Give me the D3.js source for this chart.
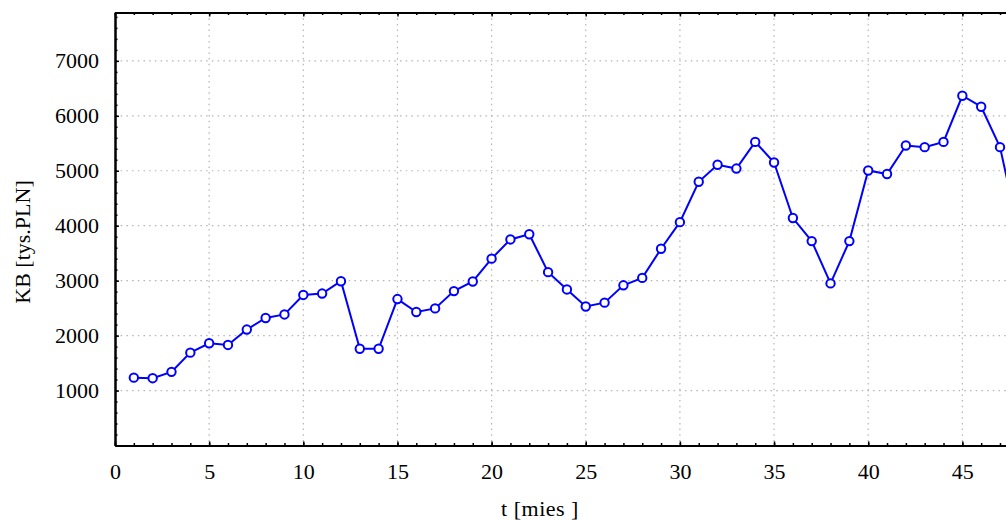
<!DOCTYPE html>
<html>
<head>
<meta charset="utf-8">
<script src="https://cdn.jsdelivr.net/npm/d3@7"></script>
<style>
  body { margin: 0; background: #fff; }
  svg { display: block; }
  .axis text { font-family: "Liberation Serif", "Times New Roman", serif; font-size: 22px; fill: #000; }
  .axis .domain { stroke: #000; stroke-width: 2; }
  .axis line { stroke: #000; stroke-width: 1.5; }
</style>
</head>
<body>
<div class="chart"></div>
<script>
var totalWidth = 1006;
var totalHeight = 520;

// DATA
var months = [1, 2, 3, 4, 5, 6, 7, 8, 9, 10, 11, 12, 13, 14, 15, 16, 17, 18, 19, 20, 21, 22, 23, 24,
  25, 26, 27, 28, 29, 30, 31, 32, 33, 34, 35, 36, 37, 38, 39, 40, 41, 42, 43, 44, 45, 46, 47, 48];
var kb = [1235, 1225, 1340, 1690, 1860, 1830, 2110, 2320, 2385, 2740, 2765, 2990, 1760, 1760, 2665, 2430,
  2495, 2810, 2985, 3400, 3750, 3845, 3155, 2840, 2530, 2600, 2915, 3050, 3580, 4065, 4800, 5110,
  5040, 5525, 5150, 4140, 3720, 2950, 3720, 5005, 4940, 5460, 5430, 5525, 6365, 6165, 5430, 3870];
var xTicks = [0, 5, 10, 15, 20, 25, 30, 35, 40, 45];
var yTicks = [1000, 2000, 3000, 4000, 5000, 6000, 7000];

var margin = { top: 12.5, left: 115, bottom: 74.5, right: 0 };
var height = totalHeight - margin.top - margin.bottom;
var width = 50 * 18.83;

var xScale = d3.scaleLinear().domain([0, 50]).range([0, width]);
var yScale = d3.scaleLinear().domain([0, 7880]).range([height, 0]);

var svg = d3.select(".chart").append("svg")
  .attr("width", totalWidth)
  .attr("height", totalHeight);

var mainGroup = svg.append("g")
  .attr("transform", "translate(" + margin.left + "," + margin.top + ")");

// GRID
var grid = mainGroup.append("g").attr("id", "grid")
  .attr("stroke", "#b4b4b4").attr("stroke-width", 1.2).attr("stroke-dasharray", "1.5,4.2");
grid.selectAll(".gx").data(xTicks.filter(function(d) { return d > 0; }))
  .enter().append("line")
  .attr("x1", function(d) { return xScale(d); })
  .attr("x2", function(d) { return xScale(d); })
  .attr("y1", 0).attr("y2", height);
grid.selectAll(".gy").data(yTicks)
  .enter().append("line")
  .attr("x1", 0).attr("x2", width)
  .attr("y1", function(d) { return yScale(d); })
  .attr("y2", function(d) { return yScale(d); });

// AXES
var minorX = d3.range(0, 51);
var minorY = d3.range(0, 7880, 200);

mainGroup.append("g").attr("class", "axis")
  .attr("transform", "translate(0," + height + ")")
  .call(d3.axisBottom(xScale).tickValues(minorX).tickSizeInner(-2.5).tickSizeOuter(0).tickFormat(""));
mainGroup.append("g").attr("class", "axis")
  .attr("transform", "translate(0," + height + ")")
  .call(d3.axisBottom(xScale).tickValues(xTicks).tickSizeInner(-4).tickSizeOuter(0).tickPadding(18));

mainGroup.append("g").attr("class", "axis")
  .call(d3.axisTop(xScale).tickValues(minorX).tickSizeInner(-2.5).tickSizeOuter(0).tickFormat(""));
mainGroup.append("g").attr("class", "axis")
  .call(d3.axisTop(xScale).tickValues(xTicks).tickSizeInner(-4).tickSizeOuter(0).tickFormat(""));

mainGroup.append("g").attr("class", "axis")
  .call(d3.axisLeft(yScale).tickValues(minorY).tickSizeInner(-2.5).tickSizeOuter(0).tickFormat(""));
mainGroup.append("g").attr("class", "axis")
  .call(d3.axisLeft(yScale).tickValues(yTicks).tickSizeInner(-4).tickSizeOuter(0).tickPadding(16)
    .tickFormat(d3.format("d")));

// AXIS TITLES
svg.append("text")
  .attr("x", 540).attr("y", 516)
  .attr("text-anchor", "middle")
  .style("font-family", "Liberation Serif, serif").style("font-size", "22px")
  .style("letter-spacing", "0.5px")
  .text("t [mies ]");

svg.append("text")
  .attr("transform", "translate(30,242) rotate(-90)")
  .attr("text-anchor", "middle")
  .style("font-family", "Liberation Serif, serif").style("font-size", "22px")
  .text("KB [tys.PLN]");

// SERIES
var data = months.map(function(m, i) { return { t: m, v: kb[i] }; });

var line = d3.line()
  .x(function(d) { return xScale(d.t); })
  .y(function(d) { return yScale(d.v); });

mainGroup.append("path")
  .datum(data)
  .attr("fill", "none")
  .attr("stroke", "#0000ff")
  .attr("stroke-width", 2)
  .attr("d", line);

mainGroup.selectAll("circle").data(data).enter().append("circle")
  .attr("cx", function(d) { return xScale(d.t); })
  .attr("cy", function(d) { return yScale(d.v); })
  .attr("r", 4.2)
  .attr("fill", "#fff")
  .attr("stroke", "#0000ff")
  .attr("stroke-width", 2);
</script>
</body>
</html>
